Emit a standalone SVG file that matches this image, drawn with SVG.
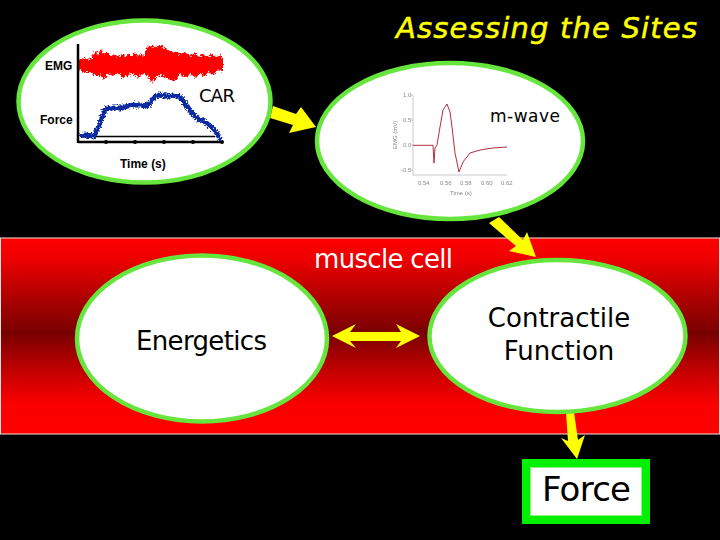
<svg xmlns="http://www.w3.org/2000/svg" width="720" height="540" viewBox="0 0 720 540">
<style>
.node{fill:#fff;stroke:#66e63c;stroke-width:4.5}
.t{font-family:"DejaVu Sans","Liberation Sans",sans-serif;fill:#000}
.a{font-family:"Liberation Sans",Arial,sans-serif;font-weight:bold;font-size:12px;fill:#000}
.s{font-family:"Liberation Sans",Arial,sans-serif;font-size:6px;fill:#888}
.arrow{fill:#ffff00}
</style>
<defs>
<linearGradient id="bg" x1="0" y1="0" x2="0" y2="1">
<stop offset="0" stop-color="#ff0000"/>
<stop offset="0.1" stop-color="#f00000"/>
<stop offset="0.3" stop-color="#b00000"/>
<stop offset="0.485" stop-color="#780000"/>
<stop offset="0.65" stop-color="#b80000"/>
<stop offset="0.84" stop-color="#fa0000"/>
<stop offset="1" stop-color="#ff0000"/>
</linearGradient>
<filter id="rough" x="-10%" y="-20%" width="120%" height="140%">
<feTurbulence type="fractalNoise" baseFrequency="0.55" numOctaves="2" seed="4"/>
<feDisplacementMap in="SourceGraphic" scale="6" xChannelSelector="R" yChannelSelector="G"/>
</filter>
<filter id="soft" x="-5%" y="-5%" width="110%" height="110%"><feGaussianBlur stdDeviation="0.4"/></filter>
</defs>
<rect width="720" height="540" fill="#000"/>
<rect id="muscle-cell-band" x="0.500" y="238" width="719" height="196" fill="url(#bg)" stroke="#ffe0e0" stroke-width="1"/>
<text x="396" y="38" font-family="'DejaVu Sans',sans-serif" font-style="italic" font-size="29" fill="#ffff00" stroke="#ffff00" stroke-width="0.500" textLength="301" lengthAdjust="spacing">Assessing the Sites</text>
<text x="314" y="268" class="t" style="fill:#fff" font-size="26" textLength="139">muscle cell</text>

<g id="connectors">
<polygon class="arrow" points="273,106 296,114 301,107 316,127 289,133 293,125 270,118"/>
<polygon class="arrow" points="499,217 523,240 527,232 536,257 509,251 516,246 489,223"/>
<polygon class="arrow" points="332,336 356,324 350,332 401,332 396,324 420,336 396,348 401,341 350,341 356,348"/>
<polygon class="arrow" points="566,412 574,412 578,440 585,435 577,459 561,438 568,441"/>
</g>

<g id="car-node">
<ellipse class="node" cx="144.500" cy="101.500" rx="126" ry="81"/>
<polygon filter="url(#rough)" fill="#ff0000" points="78,60 84,58 90,60 94,53 96,50 98,55 101,49 104,54 108,52 111,57 115,54 118,57 122,54 125,57 128,53 131,57 135,52 138,56 141,53 144,57 146,48 150,46 155,47 160,45 165,48 170,51 176,52 180,54 186,52 190,56 195,53 199,57 203,54 208,57 212,54 216,57 220,54 223,59 223,72 218,70 214,75 209,72 205,77 200,73 196,78 191,74 186,77 180,74 176,80 172,81 166,78 160,75 155,79 151,83 148,76 143,73 138,78 133,74 128,75 122,78 118,72 113,76 108,74 104,80 100,75 96,76 90,72 84,72 78,70"/>
<path d="M78 44V143M78 142H222" fill="none" stroke="#000" stroke-width="2.500"/>
<path d="M95 136.500H215" fill="none" stroke="#000" stroke-width="1.500"/>
<g fill="#000"><circle cx="106" cy="142" r="2"/><circle cx="135" cy="142" r="2"/><circle cx="164" cy="142" r="2"/><circle cx="193" cy="142" r="2"/><circle cx="222" cy="142" r="2"/></g>
<path filter="url(#rough)" d="M80 136L85 135 90 136 94 136 98 128 102 118 105 110 110 108 116 108 122 108 128 106 134 105 140 105 146 106 150 103 154 97 160 95 166 96 172 96 178 96 182 99 186 105 192 113 198 119 204 121 210 126 216 132 221 140" fill="none" stroke="#0a2aa0" stroke-width="5"/>
<text x="45" y="70" class="a">EMG</text>
<text x="40" y="124" class="a">Force</text>
<text x="120" y="168" class="a">Time (s)</text>
<text x="199" y="102" class="t" font-size="18" textLength="36">CAR</text>
</g>

<g id="m-wave-node">
<ellipse class="node" cx="450" cy="141" rx="133" ry="78"/>
<g filter="url(#soft)">
<path d="M413 95V175H507M411 95H413M411 120H413M411 145H413M411 170H413" fill="none" stroke="#bbb" stroke-width="0.800"/>
<path d="M413 145.300H433L434 163 435 148 437 145 440 127 443 110 447 104 450 112 452 127 455 153 459 172 463 162 470 153 480 150 493 148 507 147" fill="none" stroke="#b03040" stroke-width="1"/>
<g class="s">
<text x="403" y="97">1.0</text><text x="403" y="122">0.5</text><text x="403" y="147">0.0</text><text x="401" y="172">-0.5</text>
<text x="418" y="185">0.54</text><text x="440" y="185">0.56</text><text x="460" y="185">0.58</text><text x="481" y="185">0.60</text><text x="501" y="185">0.62</text>
<text x="450" y="195">Time (s)</text>
<text transform="translate(397,149) rotate(-90)">EMG (mV)</text>
</g>
</g>
<text x="490" y="122" class="t" font-size="17" textLength="70">m-wave</text>
</g>

<g id="energetics-node">
<ellipse class="node" cx="202" cy="338.500" rx="125" ry="83"/>
<text x="136" y="350" class="t" font-size="26" textLength="131">Energetics</text>
</g>

<g id="contractile-node">
<ellipse class="node" cx="557.500" cy="336" rx="128" ry="76"/>
<text x="559" y="327" class="t" font-size="26" text-anchor="middle">Contractile</text>
<text x="559" y="360" class="t" font-size="26" text-anchor="middle">Function</text>
</g>

<g id="force-node">
<rect x="526" y="463" width="120" height="57" fill="#fff" stroke="#00f000" stroke-width="8"/>
<rect x="530.500" y="467.500" width="111" height="48" fill="none" stroke="#90f080" stroke-width="1"/>
<text x="542" y="501" class="t" font-size="34" textLength="89">Force</text>
</g>
</svg>
